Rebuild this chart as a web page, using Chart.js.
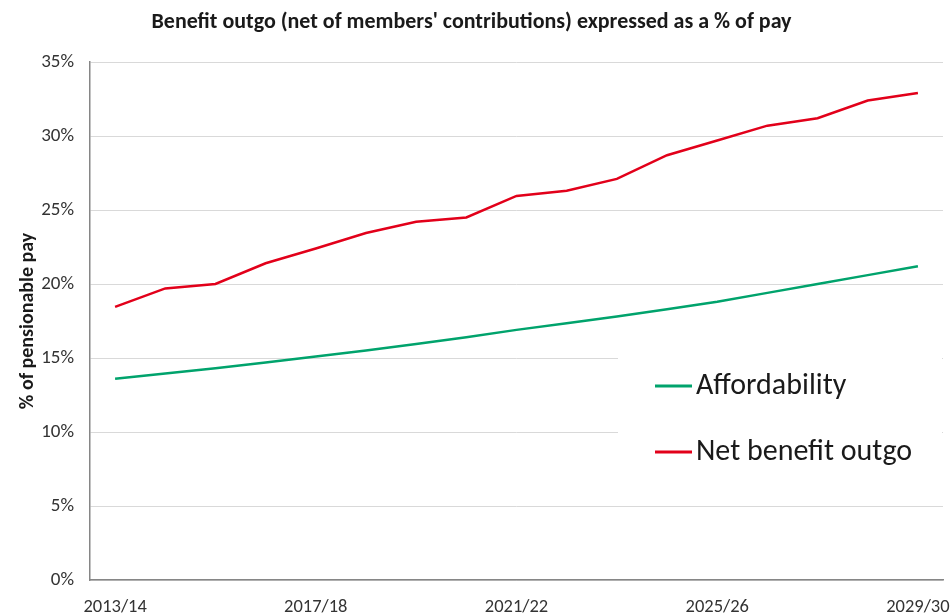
<!DOCTYPE html>
<html>
<head>
<meta charset="utf-8">
<title>Benefit outgo</title>
<script src="https://cdn.jsdelivr.net/npm/chart.js@4"></script>
<style>
  html, body { margin: 0; padding: 0; background: #fff; }
  #wrap { width: 951px; height: 614px; }
</style>
</head>
<body>
<div id="wrap"><canvas id="outgoChart"></canvas></div>
<script>
// financial years 2013/14 .. 2029/30
const years = ['2013/14', '2014/15', '2015/16', '2016/17', '2017/18', '2018/19', '2019/20', '2020/21',
  '2021/22', '2022/23', '2023/24', '2024/25', '2025/26', '2026/27', '2027/28', '2028/29', '2029/30'];

// % of pensionable pay
const affordability = [13.6, 13.95, 14.3, 14.7, 15.1, 15.5, 15.95, 16.4, 16.9, 17.35, 17.8, 18.3, 18.8, 19.4, 20.0, 20.6, 21.2];
const netBenefitOutgo = [18.45, 19.7, 20.0, 21.4, 22.4, 23.45, 24.2, 24.5, 25.95, 26.3, 27.1, 28.7, 29.7, 30.7, 31.2, 32.4, 32.9];

const yTicks = [0, 5, 10, 15, 20, 25, 30, 35];

const FONT = 'Carlito, Calibri, "Liberation Sans Narrow", "Noto Sans", sans-serif';

// legend sits inside the plot on a white panel
const insideLegend = {
  id: 'insideLegend',
  afterDatasetsDraw(chart) {
    const { ctx, chartArea } = chart;
    const boxLeft = chartArea.left + 528;
    const boxTop = chartArea.top + 292;
    ctx.save();
    ctx.fillStyle = '#ffffff';
    ctx.fillRect(boxLeft, boxTop, chartArea.right - boxLeft - 1, 150);
    ctx.font = '30px ' + FONT;
    ctx.textBaseline = 'middle';
    chart.data.datasets.forEach((ds, i) => {
      const y = chartArea.top + 324 + i * 66;
      const x = chartArea.left + 565;
      ctx.strokeStyle = ds.borderColor;
      ctx.lineWidth = 3;
      ctx.beginPath();
      ctx.moveTo(x, y);
      ctx.lineTo(x + 37, y);
      ctx.stroke();
      ctx.fillStyle = '#1a1a1a';
      ctx.fillText(ds.label, x + 41, y);
    });
    ctx.restore();
  }
};

new Chart(document.getElementById('outgoChart'), {
  type: 'line',
  data: {
    labels: years,
    datasets: [{
      label: 'Affordability',
      data: affordability,
      borderColor: '#00a36c',
      borderWidth: 2.5,
      pointRadius: 0,
      tension: 0
    }, {
      label: 'Net benefit outgo',
      data: netBenefitOutgo,
      borderColor: '#e2001a',
      borderWidth: 2.5,
      pointRadius: 0,
      tension: 0
    }]
  },
  options: {
    responsive: true,
    maintainAspectRatio: false,
    animation: false,
    layout: { padding: { left: 0, right: 8, top: 0, bottom: 0 } },
    plugins: {
      legend: { display: false },
      tooltip: { enabled: false },
      title: {
        display: true,
        text: "Benefit outgo (net of members' contributions) expressed as a % of pay",
        color: '#1a1a1a',
        font: { family: FONT, size: 22, weight: 'bold' },
        padding: { top: 9, bottom: 26.6 }
      }
    },
    scales: {
      x: {
        offset: true,
        grid: { display: false },
        border: { display: true, color: '#868686', width: 1.5 },
        afterFit(scale) {
          scale.height = 34;
          // let the end labels run into the margins
          scale.paddingLeft = 0;
          scale.paddingRight = 0;
        },
        ticks: {
          autoSkip: false,
          maxRotation: 0,
          color: '#333',
          font: { family: FONT, size: 18.5 },
          padding: 8,
          callback(value, index) {
            return index % 4 === 0 ? years[index] : '';
          }
        }
      },
      y: {
        min: 0,
        max: 35,
        afterFit(scale) { scale.width = 90; },
        afterBuildTicks(scale) {
          scale.ticks = yTicks.map(v => ({ value: v }));
        },
        grid: { color: '#d9d9d9', drawTicks: false },
        border: { display: true, color: '#868686', width: 1.5 },
        ticks: {
          color: '#333',
          padding: 16,
          font: { family: FONT, size: 19 },
          callback: v => v + '%'
        },
        title: {
          display: true,
          text: '% of pensionable pay',
          color: '#1a1a1a',
          font: { family: FONT, size: 20, weight: 'bold' },
          padding: { top: 16, bottom: 0 }
        }
      }
    }
  },
  plugins: [insideLegend]
});
</script>
</body>
</html>
